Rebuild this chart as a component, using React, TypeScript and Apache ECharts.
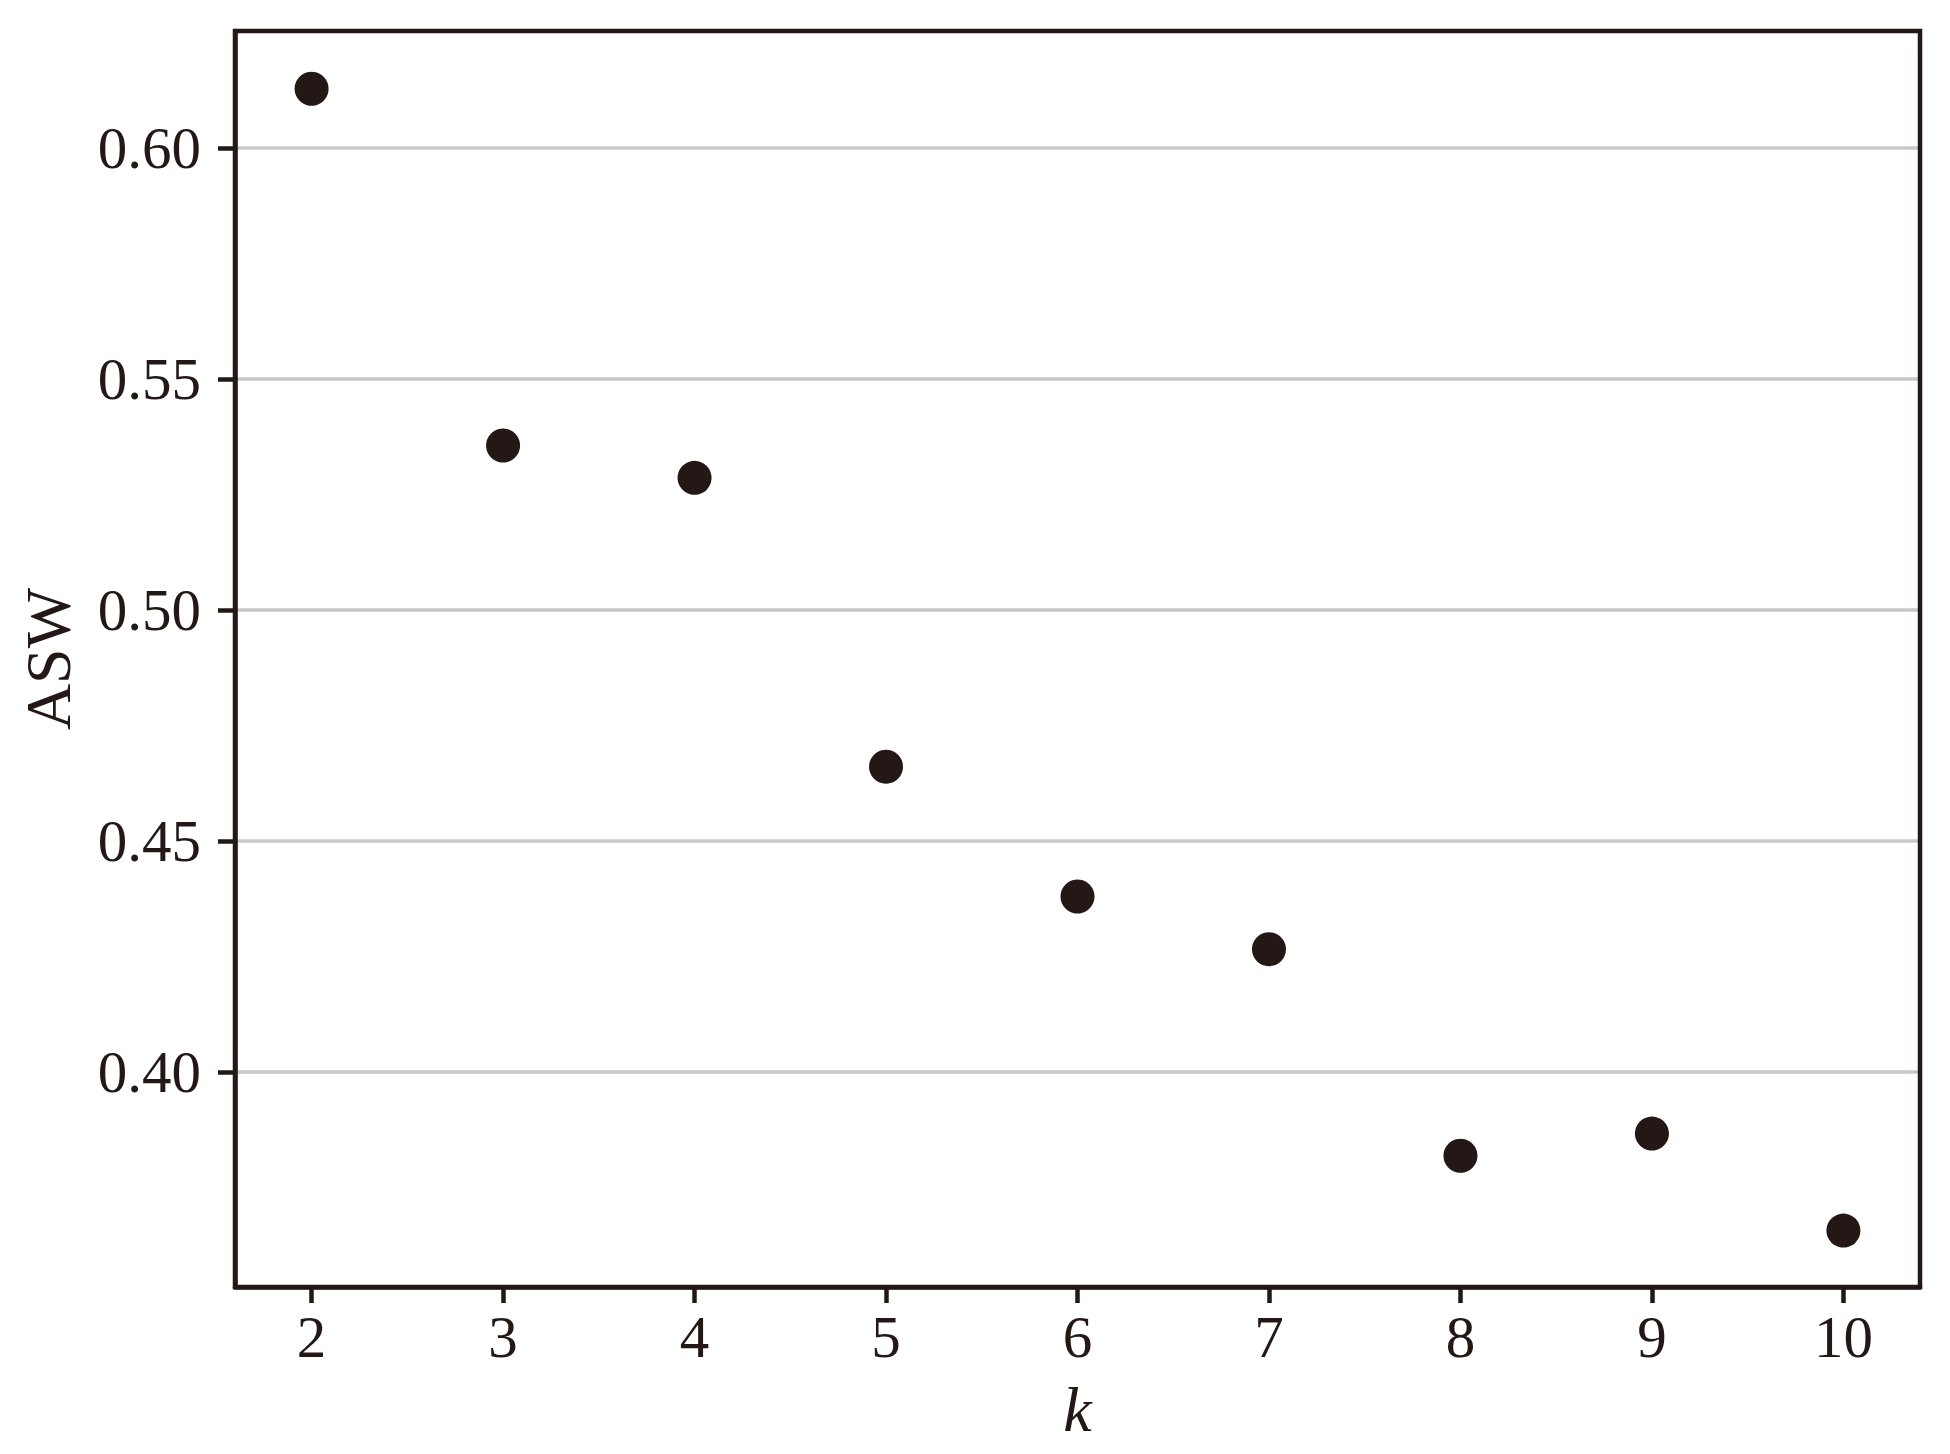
import React, { useEffect, useRef } from "react";
import * as echarts from "echarts";

const kValues = [2, 3, 4, 5, 6, 7, 8, 9, 10];
const aswValues = [0.6128, 0.5356, 0.5286, 0.4661, 0.4380, 0.4266, 0.3819, 0.3867, 0.3657];
const yTicks = [0.40, 0.45, 0.50, 0.55, 0.60];
const xTicks = [2, 3, 4, 5, 6, 7, 8, 9, 10];

const INK = "#231815";
const FONT = "'Liberation Serif', 'DejaVu Serif', serif";

export default function App() {
  const ref = useRef<HTMLDivElement>(null);
  useEffect(() => {
    document.body.style.margin = "0";
    if (!ref.current) return;
    const chart = echarts.init(ref.current, undefined, { renderer: "svg" });
    chart.setOption({
      animation: false,
      backgroundColor: "#ffffff",
      grid: {
        left: 235,
        right: 30,
        top: 31,
        bottom: 167,
        show: true,
        borderColor: INK,
        borderWidth: 4.5,
        backgroundColor: "transparent",
        z: 5,
      },
      xAxis: {
        type: "value",
        min: 1.6,
        max: 10.4,
        name: "k",
        nameLocation: "middle",
        nameGap: 90,
        nameTextStyle: { fontFamily: FONT, fontSize: 64, fontStyle: "italic", color: INK },
        axisLine: { show: true, lineStyle: { color: INK, width: 4.5 } },
        axisTick: { show: true, customValues: xTicks, length: 16, lineStyle: { color: INK, width: 4.5 } },
        axisLabel: { customValues: xTicks, fontFamily: FONT, fontSize: 59, color: INK, margin: 20 },
        splitLine: { show: false },
      },
      yAxis: {
        type: "value",
        min: 0.3535,
        max: 0.6253,
        name: "ASW",
        nameLocation: "middle",
        nameGap: 155,
        nameRotate: 90,
        nameTextStyle: { fontFamily: FONT, fontSize: 64, color: INK },
        axisLine: { show: true, lineStyle: { color: INK, width: 4.5 } },
        axisTick: { show: true, customValues: yTicks, length: 17, lineStyle: { color: INK, width: 4.5 } },
        axisLabel: {
          customValues: yTicks,
          fontFamily: FONT,
          fontSize: 59,
          color: INK,
          margin: 34,
          formatter: (v: number) => v.toFixed(2),
        },
        splitLine: { show: true, lineStyle: { color: "#c8c8c8", width: 3.5 } },
      },
      series: [
        {
          type: "scatter",
          data: kValues.map((k, i) => [k, aswValues[i]]),
          symbol: "circle",
          symbolSize: 34,
          itemStyle: { color: INK, opacity: 1 },
          z: 10,
        },
      ],
    });
    return () => chart.dispose();
  }, []);
  return <div ref={ref} style={{ width: 1950, height: 1454 }} />;
}
